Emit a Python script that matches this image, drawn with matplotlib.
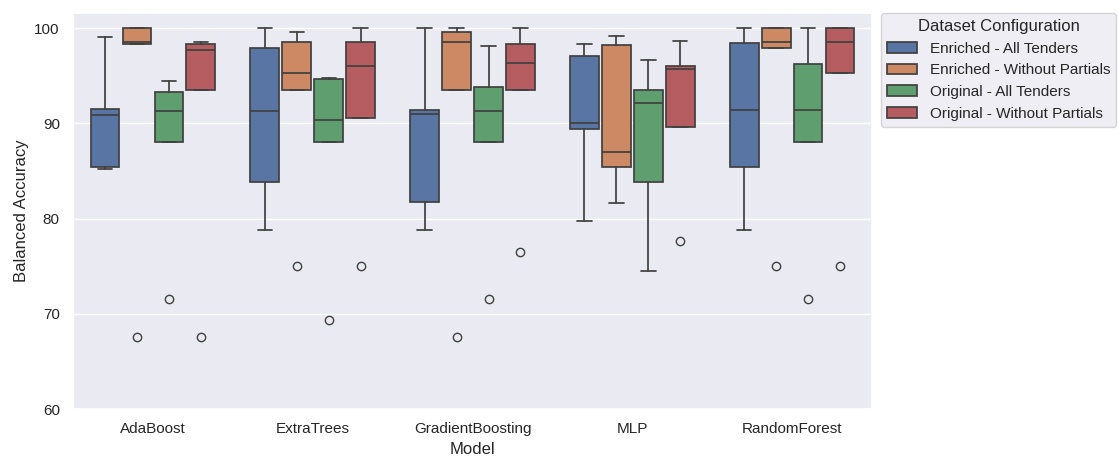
import matplotlib
matplotlib.use("Agg")
import matplotlib.pyplot as plt
from matplotlib.patches import Patch
import seaborn as sns

models = ["AdaBoost", "ExtraTrees", "GradientBoosting", "MLP", "RandomForest"]
configs = ["Enriched - All Tenders", "Enriched - Without Partials",
           "Original - All Tenders", "Original - Without Partials"]

# Five-number summaries per configuration (order follows `models`)
ea_whishi = [99.1, 100.0, 100.0, 98.3, 100.0]
ea_q3     = [91.5, 97.9, 91.4, 97.1, 98.4]
ea_med    = [90.9, 91.3, 91.0, 90.0, 91.4]
ea_q1     = [85.4, 83.8, 81.7, 89.4, 85.4]
ea_whislo = [85.2, 78.8, 78.8, 79.7, 78.8]
ea_fliers = [[], [], [], [], []]

ew_whishi = [100.0, 99.6, 100.0, 99.2, 100.0]
ew_q3     = [100.0, 98.6, 99.6, 98.2, 100.0]
ew_med    = [98.6, 95.3, 98.6, 87.0, 98.6]
ew_q1     = [98.3, 93.5, 93.5, 85.4, 97.9]
ew_whislo = [98.3, 93.5, 93.5, 81.6, 97.9]
ew_fliers = [[67.6], [75.0], [67.6], [], [75.0]]

oa_whishi = [94.5, 94.8, 98.1, 96.7, 100.0]
oa_q3     = [93.3, 94.7, 93.8, 93.5, 96.2]
oa_med    = [91.3, 90.4, 91.3, 92.1, 91.4]
oa_q1     = [88.0, 88.0, 88.0, 83.8, 88.0]
oa_whislo = [88.0, 88.0, 88.0, 74.5, 88.0]
oa_fliers = [[71.6], [69.4], [71.6], [], [71.6]]

ow_whishi = [98.6, 100.0, 100.0, 98.7, 100.0]
ow_q3     = [98.3, 98.6, 98.3, 96.0, 100.0]
ow_med    = [97.7, 96.0, 96.3, 95.7, 98.6]
ow_q1     = [93.5, 90.6, 93.5, 89.6, 95.3]
ow_whislo = [93.5, 90.6, 93.5, 89.6, 95.3]
ow_fliers = [[67.6], [75.0], [76.5], [77.6], [75.0]]

series = [
    (ea_whislo, ea_q1, ea_med, ea_q3, ea_whishi, ea_fliers),
    (ew_whislo, ew_q1, ew_med, ew_q3, ew_whishi, ew_fliers),
    (oa_whislo, oa_q1, oa_med, oa_q3, oa_whishi, oa_fliers),
    (ow_whislo, ow_q1, ow_med, ow_q3, ow_whishi, ow_fliers),
]

sns.set_theme(style="darkgrid")
plt.rcParams['font.family'] = ['Liberation Sans', 'DejaVu Sans']

base = sns.color_palette("deep", 4)
colors = [sns.desaturate(c, 0.75) for c in base]
line_c = "#404040"

fig = plt.figure(figsize=(11.18, 4.57), dpi=100)
ax = fig.add_axes([0.0653, 0.105, 0.7147, 0.8666])

offsets = [-0.3, -0.1, 0.1, 0.3]
for k, (wl, q1, med, q3, wh, fl) in enumerate(series):
    stats = []
    for i in range(len(models)):
        stats.append(dict(whislo=wl[i], q1=q1[i], med=med[i], q3=q3[i],
                          whishi=wh[i], fliers=fl[i]))
    pos = [i + offsets[k] for i in range(len(models))]
    ax.bxp(stats, positions=pos, widths=0.18, patch_artist=True,
           showfliers=True, manage_ticks=False,
           boxprops=dict(facecolor=colors[k], edgecolor=line_c, linewidth=1.25),
           medianprops=dict(color=line_c, linewidth=1.25),
           whiskerprops=dict(color=line_c, linewidth=1.25),
           capprops=dict(color=line_c, linewidth=1.25),
           flierprops=dict(marker='o', markerfacecolor='none',
                           markeredgecolor=line_c, markersize=6,
                           markeredgewidth=1.0))

ax.set_xticks(range(len(models)))
ax.set_xticklabels(models)
ax.set_xlim(-0.5, len(models) - 0.5)
ax.set_ylim(60, 101.6)
ax.set_yticks([60, 70, 80, 90, 100])
ax.grid(False, axis='x')
ax.set_xlabel("Model")
ax.set_ylabel("Balanced Accuracy")

handles = [Patch(facecolor=colors[k], edgecolor=line_c, linewidth=1.25, label=configs[k])
           for k in range(4)]
ax.legend(handles=handles, title="Dataset Configuration",
          loc="upper left", bbox_to_anchor=(1.011, 1.0), borderaxespad=0)

fig.savefig("out.png", dpi=100)
